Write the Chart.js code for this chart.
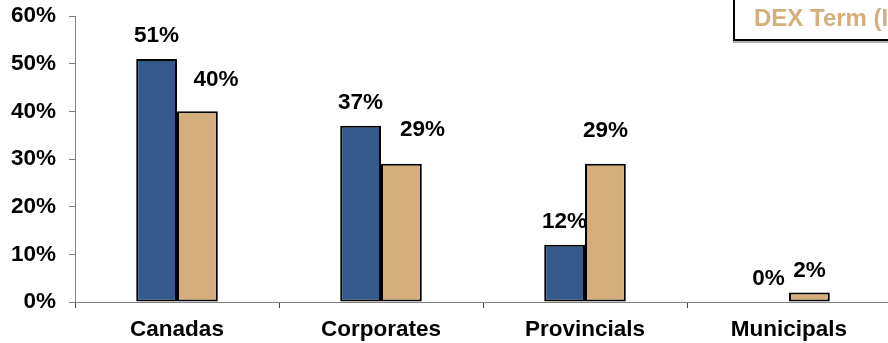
<!DOCTYPE html>
<html>
<head>
<meta charset="utf-8">
<script src="https://cdn.jsdelivr.net/npm/chart.js@4.4.0/dist/chart.umd.min.js"></script>
<style>
  html, body { margin: 0; padding: 0; background: #fff; overflow: hidden; }
  #wrap { position: relative; width: 888px; height: 343px; overflow: hidden; }
  #holder { position: absolute; left: 0; top: 0; width: 892px; height: 343px; }
  #legendBox {
    position: absolute; left: 733px; top: -10px; width: 200px; height: 47px;
    border: 2px solid #000; background: #fff;
    box-shadow: 0 2px 0 #b0b0b0;
    font: bold 24px "Liberation Sans", Arial, sans-serif; color: #d4af7d;
    white-space: nowrap;
  }
  #legendBox span { position: absolute; left: 19px; top: 12px; }
</style>
</head>
<body>
<div id="wrap">
  <div id="holder"><canvas id="chart" width="892" height="343"></canvas></div>
  <div id="legendBox"><span>DEX Term (Index)</span></div>
</div>
<script>
const categories = ['Canadas', 'Corporates', 'Provincials', 'Municipals'];
const portfolioValues = [51, 37, 12, 0];
const indexValues = [40, 29, 29, 2];
const yTicks = [0, 10, 20, 30, 40, 50, 60];

// Hand-placed label nudges (x, y) like in the original sheet
const labelNudge = [
    [[0, 0], [0, 0], [0, 0], [0, 0]],
    [[18.5, -8.5], [21, -11], [0, -10], [0, 1]]
];

const FONT = 'bold 22.5px "Liberation Sans", Arial, sans-serif';

const valueLabels = {
    id: 'valueLabels',
    afterDatasetsDraw(chart) {
        const ctx = chart.ctx;
        ctx.save();
        ctx.font = FONT;
        ctx.fillStyle = '#000';
        ctx.textAlign = 'center';
        ctx.textBaseline = 'middle';
        chart.data.datasets.forEach((ds, di) => {
            chart.getDatasetMeta(di).data.forEach((bar, i) => {
                const n = labelNudge[di][i];
                ctx.fillText(ds.data[i] + '%', bar.x + n[0], bar.y - 23 + n[1]);
            });
        });
        ctx.restore();
    }
};

new Chart(document.getElementById('chart'), {
    type: 'bar',
    data: {
        labels: categories,
        datasets: [{
            label: 'Portfolio',
            data: portfolioValues,
            backgroundColor: '#335a8a',
            borderColor: '#000',
            borderWidth: 2,
            borderSkipped: false
        }, {
            label: 'DEX Term (Index)',
            data: indexValues,
            backgroundColor: '#d4af7d',
            borderColor: '#000',
            borderWidth: 2,
            borderSkipped: false
        }]
    },
    options: {
        responsive: false,
        animation: false,
        layout: { padding: { top: 0, right: 1, left: 0, bottom: 0 } },
        datasets: { bar: { categoryPercentage: 0.4, barPercentage: 1 } },
        plugins: {
            legend: { display: false },
            tooltip: { enabled: false }
        },
        scales: {
            x: {
                offset: true,
                grid: {
                    offset: true,
                    drawOnChartArea: false,
                    tickLength: 6,
                    color: '#404040'
                },
                border: { color: '#808080', width: 1 },
                ticks: {
                    color: '#000',
                    font: { family: '"Liberation Sans", Arial, sans-serif', size: 22.5, weight: 'bold' },
                    padding: 8,
                    maxRotation: 0
                },
                afterFit(scale) { scale.height = 41; }
            },
            y: {
                min: 0,
                max: 60,
                afterBuildTicks(scale) { scale.ticks = yTicks.map(v => ({ value: v })); },
                grid: {
                    drawOnChartArea: false,
                    tickLength: 6,
                    color: '#808080'
                },
                border: { color: '#808080', width: 1 },
                ticks: {
                    color: '#000',
                    font: { family: '"Liberation Sans", Arial, sans-serif', size: 22.5, weight: 'bold' },
                    padding: 13,
                    callback: v => v + '%'
                },
                afterFit(scale) {
                    scale.width = 75;
                    scale.paddingTop = 16;
                    scale.paddingBottom = 0;
                }
            }
        }
    },
    plugins: [valueLabels]
});
</script>
</body>
</html>
